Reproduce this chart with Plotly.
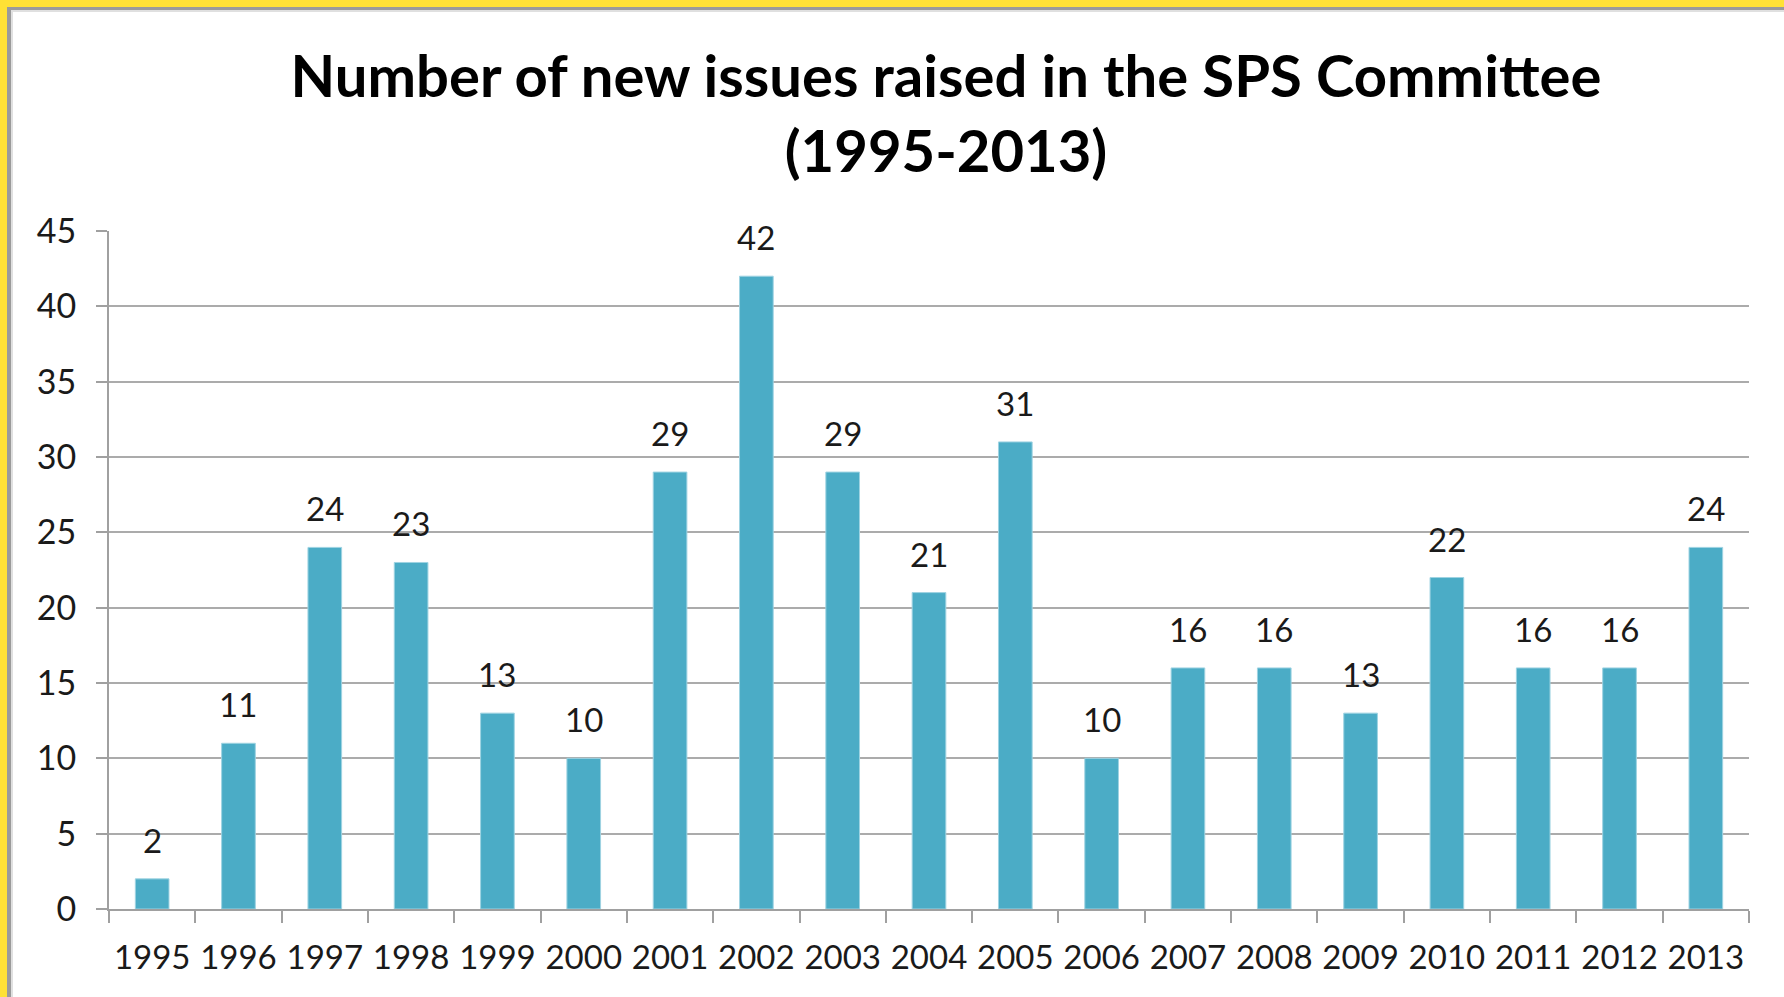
import plotly.graph_objects as go

years = ["1995", "1996", "1997", "1998", "1999", "2000", "2001", "2002", "2003", "2004",
         "2005", "2006", "2007", "2008", "2009", "2010", "2011", "2012", "2013"]
issues = [2, 11, 24, 23, 13, 10, 29, 42, 29, 21, 31, 10, 16, 16, 13, 22, 16, 16, 24]
y_ticks = [0, 5, 10, 15, 20, 25, 30, 35, 40, 45]

W, H = 1784, 997
L, R, T, B = 109, 35, 231, 88
PW, PH = W - L - R, H - T - B

def px(x):
    return (x - L) / PW

def py(y):
    return (H - B - y) / PH

FONT = "Lato, 'Open Sans', sans-serif"

fig = go.Figure()
fig.add_trace(go.Bar(
    x=years, y=issues,
    marker=dict(color="#4BACC6", line=dict(color="#9ED3E2", width=1)),
    width=0.39,
    hoverinfo="x+y",
))

annotations = []
for i, v in enumerate(issues):
    annotations.append(dict(
        x=i, y=v, xref="x", yref="y", text=str(v), showarrow=False,
        yanchor="middle", yshift=39,
        font=dict(family=FONT, size=33, color="#1a1a1a"),
    ))

shapes = [
    dict(type="rect", xref="paper", yref="paper", x0=px(0), x1=px(7), y0=py(H), y1=py(0),
         fillcolor="#FFE135", line=dict(width=0), layer="above"),
    dict(type="rect", xref="paper", yref="paper", x0=px(0), x1=px(W), y0=py(7), y1=py(0),
         fillcolor="#FFE135", line=dict(width=0), layer="above"),
    dict(type="rect", xref="paper", yref="paper", x0=px(7), x1=px(11), y0=py(H), y1=py(7),
         fillcolor="#9A9A9A", line=dict(width=0), layer="above"),
    dict(type="rect", xref="paper", yref="paper", x0=px(7), x1=px(W), y0=py(10), y1=py(7),
         fillcolor="#9A9A9A", line=dict(width=0), layer="above"),
    dict(type="rect", xref="paper", yref="paper", x0=px(11), x1=px(13), y0=py(H), y1=py(10),
         fillcolor="#E0E0E0", line=dict(width=0), layer="above"),
    dict(type="rect", xref="paper", yref="paper", x0=px(11), x1=px(W), y0=py(12), y1=py(10),
         fillcolor="#E0E0E0", line=dict(width=0), layer="above"),
]

fig.update_layout(
    width=W, height=H,
    margin=dict(l=L, r=R, t=T, b=B, pad=0, autoexpand=False),
    paper_bgcolor="white", plot_bgcolor="white",
    showlegend=False,
    bargap=0.6,
    title=dict(
        text="Number of new issues raised in the SPS Committee<br>(1995-2013)",
        x=946 / W, xanchor="center", xref="container",
        y=1 - 97 / H, yanchor="middle", yref="container",
        font=dict(family=FONT, size=58, color="#000000", weight="bold"),
    ),
    xaxis=dict(
        type="category", range=[-0.5, len(years) - 0.5], automargin=False, tickangle=0,
        tickson="boundaries", ticks="outside", ticklen=12, tickwidth=2, tickcolor="#A0A0A0",
        showline=True, linecolor="#A0A0A0", linewidth=2,
        showgrid=False, tickfont=dict(family=FONT, size=33, color="#1a1a1a"),
        ticklabelstandoff=18,
    ),
    yaxis=dict(
        range=[0, 45], tickvals=y_ticks, ticks="outside", ticklen=11, tickwidth=2,
        automargin=False,
        tickcolor="#A0A0A0", showline=True, linecolor="#A0A0A0", linewidth=2,
        showgrid=True, gridcolor="#ABABAB", gridwidth=2, zeroline=False,
        tickfont=dict(family=FONT, size=34, color="#1a1a1a"),
        ticklabelstandoff=13,
    ),
    annotations=annotations,
    shapes=shapes,
)

fig.write_html("out.html", config={"displayModeBar": False},
               post_script="document.body.style.margin='0';document.body.style.overflow='hidden';")
